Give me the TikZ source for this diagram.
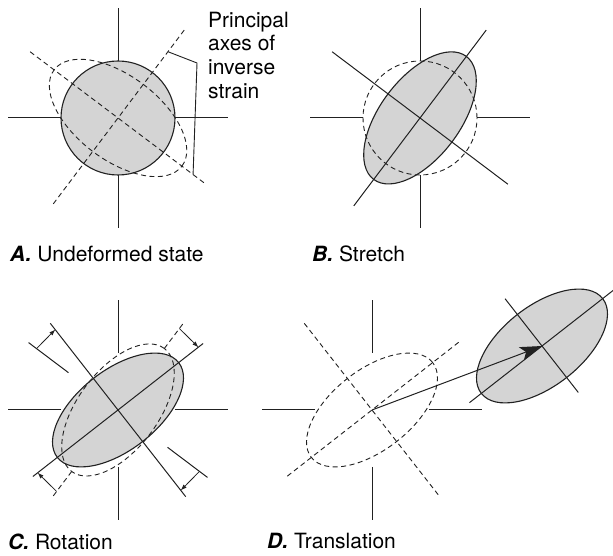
\documentclass[tikz,border=0pt]{standalone}
\usepackage{fontspec}
\setmainfont{TeX Gyre Heros}
\usepackage{xcolor}
\usetikzlibrary{arrows.meta,calc}

\definecolor{inkgray}{gray}{0.13}
\definecolor{grainfill}{gray}{0.83}

\begin{document}
\begin{tikzpicture}[
    x=1pt, y=1pt,
    > = {Latex[length=6pt,width=4.5pt]}, % small rotation arrows
    outline/.style={draw=inkgray, line width=1.1pt},
    axis/.style={draw=inkgray, line width=1pt},
    ghost/.style={draw=inkgray, line width=0.9pt, dash pattern=on 5pt off 3.5pt},
    grain/.style={fill=grainfill},
    caption/.style={anchor=base west, inner sep=0pt, font=\fontsize{21}{24}\selectfont}
]
\useasboundingbox (0,0) rectangle (613,556);

% Centres of the four panels
\coordinate (A) at (118,438);
\coordinate (B) at (420,438);
\coordinate (C) at (118,146);
\coordinate (D) at (372,146);
\coordinate (Dmoved) at (542,210);

% Fixed reference cross
\foreach \p in {A,B,C,D}
  \foreach \a in {0,90,180,270}
    \draw[axis] ($(\p)+(\a:57)$) -- ($(\p)+(\a:110)$);

% A. Undeformed state
\fill[grain] (A) circle[radius=57];
\draw[outline] (A) circle[radius=57];
\draw[ghost, rotate around={-37:(A)}] (A) ellipse[x radius=80, y radius=42];
\draw[ghost] ($(A)+(53:110)$) -- ($(A)+(233:110)$);
\draw[ghost] ($(A)+(143:110)$) -- ($(A)+(-37:110)$);
\coordinate (bracketTop) at ($(A)+(53:83)$);
\coordinate (bracketKnee) at (197,493);
\coordinate (bracketEnd) at ($(A)+(-37:94)$);
\draw[axis, line width=0.9pt] (bracketTop) -- (bracketKnee) -- (bracketEnd);
\node[anchor=north west, align=left, inner sep=0pt, font=\fontsize{21}{23.5}\selectfont] (axesnote) at (208,544) {Principal\\axes of\\inverse\\strain};

% B. Stretch
\fill[grain, rotate around={53:(B)}] (B) ellipse[x radius=77, y radius=40];
\draw[outline, rotate around={53:(B)}] (B) ellipse[x radius=77, y radius=40];
\draw[ghost] (B) circle[radius=57];
\draw[axis] ($(B)+(53:110)$) -- ($(B)+(233:110)$);
\draw[axis] ($(B)+(143:110)$) -- ($(B)+(-37:110)$);

% C. Rotation
\fill[grain, rotate around={38:(C)}] (C) ellipse[x radius=77, y radius=40];
\draw[outline, rotate around={38:(C)}] (C) ellipse[x radius=77, y radius=40];
\draw[ghost, rotate around={53:(C)}] (C) ellipse[x radius=77, y radius=40];
\draw[axis] ($(C)+(38:108)$) -- ($(C)+(218:108)$);
\draw[axis] ($(C)+(128:110)$) -- ($(C)+(-52:110)$);
\foreach \a in {53,233}
  \draw[ghost] ($(C)+(\a:77)$) -- ($(C)+(\a:110)$);
\foreach \a in {143,323}
  \draw[axis] ($(C)+(\a:62)$) -- ($(C)+(\a:112)$);
\foreach \a/\b in {53/38,143/128,233/218,323/308}
  \draw[axis, line width=0.8pt, ->] ($(C)+(\a:102)$) -- ($(C)+(\b:102)$);

% D. Translation
\draw[ghost, rotate around={38:(D)}] (D) ellipse[x radius=77, y radius=40];
\draw[ghost] ($(D)+(38:110)$) -- ($(D)+(218:110)$);
\draw[ghost] ($(D)+(128:110)$) -- ($(D)+(-52:110)$);
\fill[grain, rotate around={38:(Dmoved)}] (Dmoved) ellipse[x radius=77, y radius=40];
\draw[outline, rotate around={38:(Dmoved)}] (Dmoved) ellipse[x radius=77, y radius=40];
\draw[axis] ($(Dmoved)+(38:92)$) -- ($(Dmoved)+(218:92)$);
\draw[axis] ($(Dmoved)+(128:60)$) -- ($(Dmoved)+(-52:59)$);
\draw[axis, -{Stealth[length=22pt,width=14pt,inset=5pt]}] (D) -- (Dmoved);

% Captions
\node[caption] (capA) at (10,294) {\textbf{\textit{A.}} Undeformed state};
\node[caption] (capB) at (312,294) {\textbf{\textit{B.}} Stretch};
\node[caption] (capC) at (8,6) {\textbf{\textit{C.}} Rotation};
\node[caption] (capD) at (267,7) {\textbf{\textit{D.}} Translation};

\end{tikzpicture}
\end{document}
